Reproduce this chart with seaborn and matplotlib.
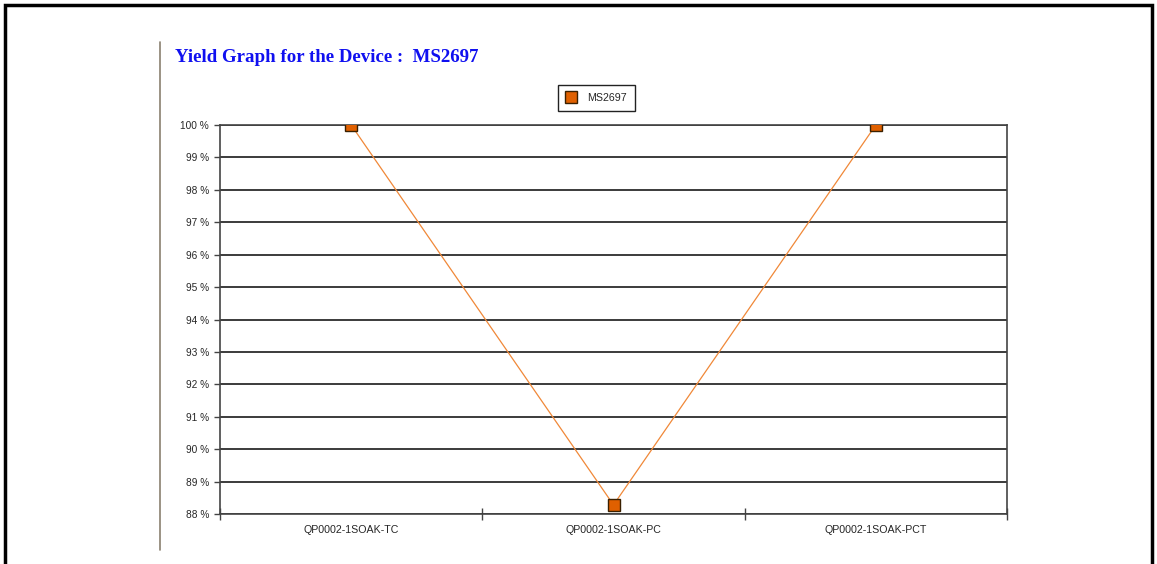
import matplotlib
matplotlib.use("Agg")
import matplotlib.pyplot as plt
from matplotlib.lines import Line2D
from matplotlib.ticker import FixedLocator, FuncFormatter
import pandas as pd
import seaborn as sns

# Yield per test step for device MS2697
steps = ["QP0002-1SOAK-TC", "QP0002-1SOAK-PC", "QP0002-1SOAK-PCT"]
yield_pct = [100.0, 88.28, 100.0]
device = "MS2697"
y_ticks = list(range(88, 101))

df = pd.DataFrame({"step": steps, "pos": range(len(steps)), "yield": yield_pct,
                   "device": device})

sns.set_style("white")
plt.rcParams["font.family"] = ["Liberation Sans", "DejaVu Sans"]

W, H = 1157, 564
fig = plt.figure(figsize=(W / 100, H / 100), dpi=100)
ax = fig.add_axes([220 / W, 1 - 514 / H, (1007 - 220) / W, (514 - 125) / H])

sns.lineplot(data=df, x="pos", y="yield", hue="device", palette=["#F08838"],
             sort=False, linewidth=0.9, marker="s", markersize=8,
             markerfacecolor="#E06000", markeredgecolor="#3A2000",
             markeredgewidth=1.0, ax=ax, clip_on=True, zorder=5)

ax.set_xlim(-0.5, len(steps) - 0.5)
ax.set_ylim(88, 100)
ax.set_xlabel("")
ax.set_ylabel("")

# y axis: 1% steps with horizontal gridlines
ax.yaxis.set_major_locator(FixedLocator(y_ticks))
ax.yaxis.set_major_formatter(FuncFormatter(lambda v, _: f"{int(round(v))} %"))
ax.grid(axis="y", color="#1a1a1a", linewidth=1.2)
ax.tick_params(axis="y", which="major", direction="out", length=4, width=1,
               color="#444444", labelsize=7.3, pad=4, left=True)

# x axis: category labels centred, tick marks on category boundaries
ax.set_xticks(range(len(steps)))
ax.set_xticklabels(steps)
ax.tick_params(axis="x", which="major", length=0, labelsize=7.7, pad=8)
ax.set_xticks([i - 0.5 for i in range(len(steps) + 1)], minor=True)
ax.tick_params(axis="x", which="minor", direction="inout", length=9, width=1,
               color="#444444", bottom=True)

for s in ax.spines.values():
    s.set_visible(True)
    s.set_color("#444444")
    s.set_linewidth(1.2)

leg = ax.legend(loc="center", bbox_to_anchor=(0.478, 1.069), frameon=True,
                fancybox=False, shadow=False, fontsize=7.7, handlelength=1.0,
                handletextpad=1.0, borderpad=0.75, borderaxespad=0,
                framealpha=1)
leg.get_frame().set_edgecolor("#222222")
leg.get_frame().set_linewidth(1.0)
for h in leg.legend_handles:
    h.set_linestyle("none")

# title
fig.text(175 / W, 1 - 57 / H, f"Yield Graph for the Device :  {device}",
         color="#1010F0", fontsize=13.6, fontweight="bold",
         family=["Liberation Serif", "DejaVu Serif"], ha="left", va="center")

# page decorations: grey separator and black frame
fig.add_artist(Line2D([160 / W, 160 / W], [1 - 42 / H, 1 - 550 / H],
                      color="#8A8070", linewidth=1.2))
fig.add_artist(Line2D([5 / W, 5 / W, 1152 / W, 1152 / W],
                      [0, 1 - 5 / H, 1 - 5 / H, 0],
                      color="black", linewidth=2.5, solid_joinstyle="miter"))

fig.savefig("out.png", dpi=100)
